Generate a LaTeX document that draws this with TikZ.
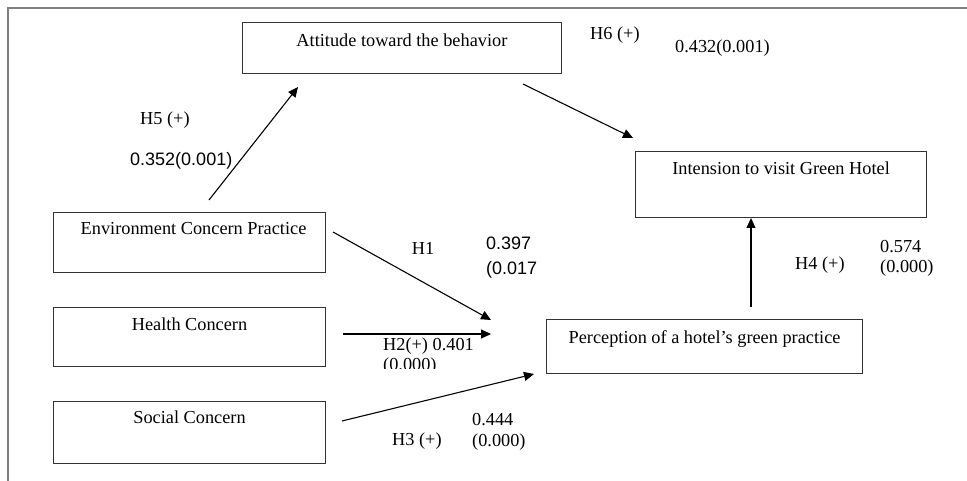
\documentclass[tikz,border=0pt]{standalone}
\usepackage{fontspec}
\setmainfont{Liberation Serif}
\newfontfamily\arialfont{Liberation Sans}
\usetikzlibrary{arrows.meta}
\begin{document}
\begin{tikzpicture}[x=1pt,y=-1pt,
  box/.style={draw=black!80, line width=1.1pt, rectangle, inner sep=0pt, anchor=north west,
    font=\fontsize{18.3}{22}\selectfont},
  lbl/.style={inner sep=0pt, anchor=west, font=\fontsize{18.3}{22}\selectfont},
  slbl/.style={inner sep=0pt, anchor=west, font=\arialfont\fontsize{18}{22}\selectfont},
  arr/.style={line width=1.1pt, -{Triangle[length=10pt,width=9pt]}}]
\useasboundingbox (0,0) rectangle (967,481);
% frame
\draw[gray, line width=2pt] (8,481) -- (8,8) -- (967,8);
% boxes
\node[box, minimum width=319.3pt, text height=24pt, text depth=27.6pt] (att) at (241.7,21.7) {Attitude toward the behavior};
\node[box, minimum width=291pt, text height=23.3pt, text depth=43.3pt] (int) at (635,150.7) {Intension to visit Green Hotel};
\node[box, minimum width=271.4pt, text height=22.3pt, text depth=37.7pt] (env) at (53.3,211.7) {\hspace*{8pt}Environment Concern Practice};
\node[box, minimum width=271.4pt, text height=23.3pt, text depth=35.7pt] (hea) at (53.3,306.7) {Health Concern};
\node[box, minimum width=271.4pt, text height=22.3pt, text depth=39.7pt] (soc) at (53.3,400.7) {Social Concern};
\node[box, minimum width=316.6pt, text height=24.3pt, text depth=30pt] (per) at (545.7,319) {Perception of a hotel’s green practice};
% connector end points
\coordinate (h5s) at (209,200);  \coordinate (h5e) at (298,87);
\coordinate (h6s) at (523,84);   \coordinate (h6e) at (633,138);
\coordinate (h1s) at (333,232);  \coordinate (h1e) at (491,320);
\coordinate (h2s) at (343,334);  \coordinate (h2e) at (491,334);
\coordinate (h3s) at (342,421);  \coordinate (h3e) at (534,374);
\coordinate (h4s) at (751,307);  \coordinate (h4e) at (751,218);
\draw[arr] (h5s) -- (h5e);
\draw[arr] (h6s) -- (h6e);
\draw[arr] (h1s) -- (h1e);
\draw[arr] (h2s) -- (h2e);
\draw[arr] (h3s) -- (h3e);
\draw[arr] (h4s) -- (h4e);
% labels
\node[lbl] (l5a) at (140,120) {H5 (+)};
\node[slbl] (l5b) at (130,161) {0.352(0.001)};
\node[lbl] (l6a) at (590,35) {H6 (+)};
\node[lbl] (l6b) at (675,48) {0.432(0.001)};
\node[lbl] (l1a) at (411.7,248) {H1};
\node[slbl] (l1b) at (486,243) {0.397};
\node[slbl] (l1c) at (486,270) {(0.017};
\node[lbl] (l2a) at (383,346) {H2(+) 0.401};
\begin{scope}
\clip (370,352) rectangle (480,368.5);
\node[lbl] (l2b) at (383,366) {(0.000)};
\end{scope}
\node[lbl] (l3b) at (472,420) {0.444};
\node[lbl] (l3c) at (472,441.7) {(0.000)};
\node[lbl] (l3a) at (392,441) {H3 (+)};
\node[lbl] (l4a) at (795,265) {H4 (+)};
\node[lbl] (l4b) at (880,246.7) {0.574};
\node[lbl] (l4c) at (880,268) {(0.000)};
\end{tikzpicture}
\end{document}
